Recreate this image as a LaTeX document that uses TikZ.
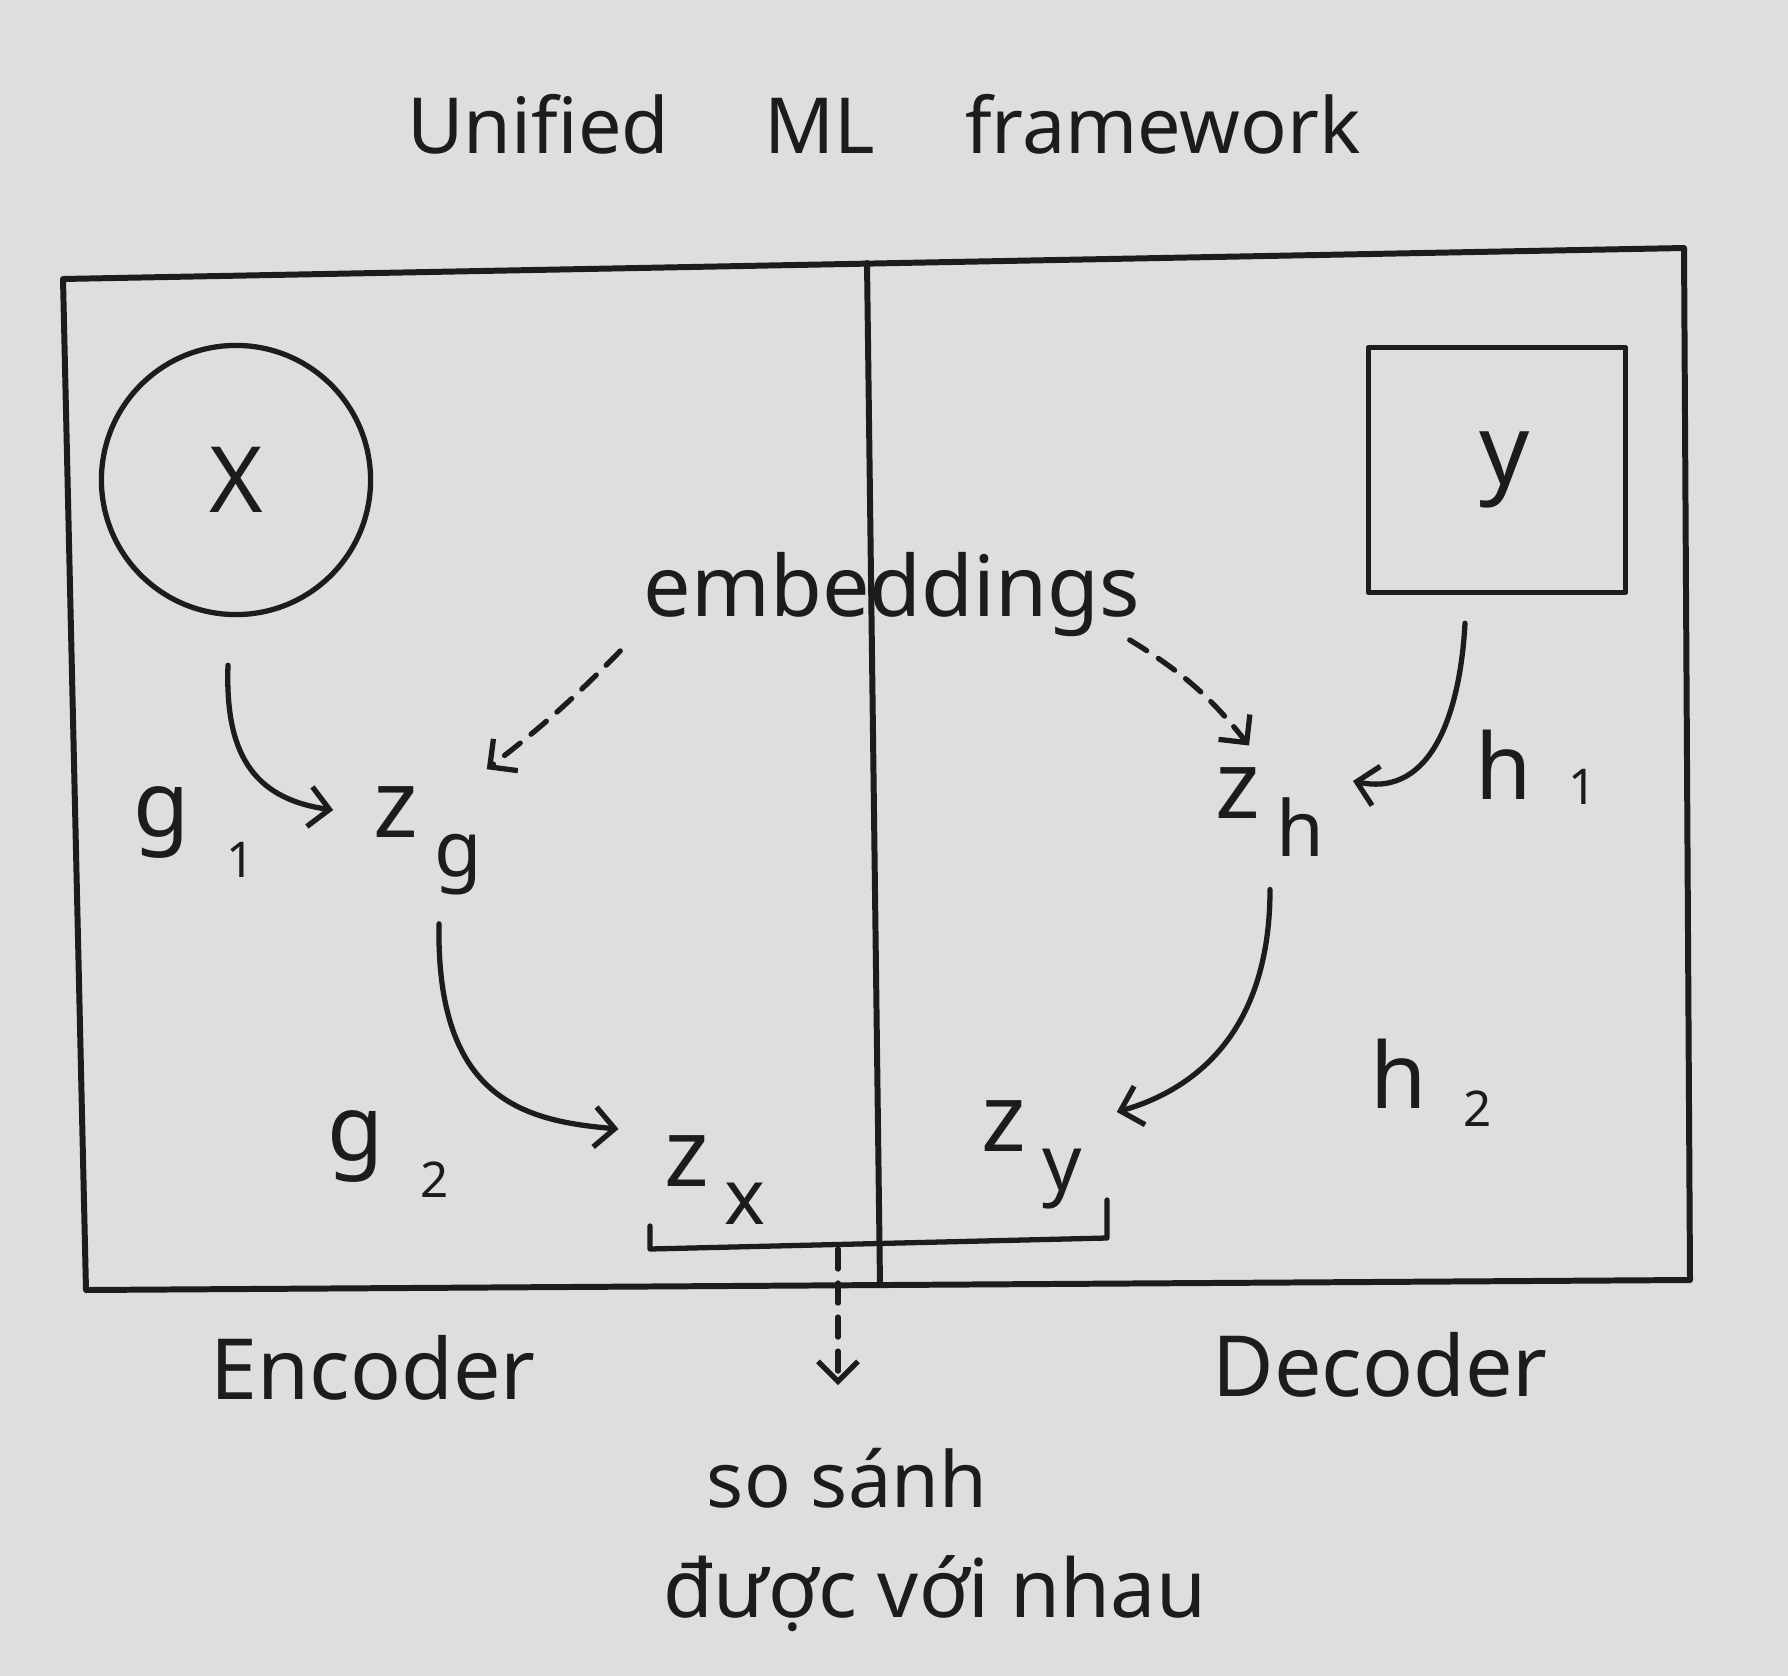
\documentclass[tikz,border=0pt]{standalone}
\usepackage{fontspec}
\setmainfont{Noto Sans}
\usetikzlibrary{arrows.meta,calc}
\definecolor{inkc}{RGB}{28,28,28}
\definecolor{paper}{RGB}{222,222,220}
\newcommand\zsub[1]{{\fontsize{27}{32}\selectfont\bfseries z}\kern0.16cm\raisebox{-11pt}{\fontsize{22}{26}\selectfont #1}}
\newcommand\gsub[3]{{\fontsize{26}{30}\selectfont #1\kern0.4em\raisebox{-#3}{\fontsize{14}{16}\selectfont #2}}}
\begin{document}
\begin{tikzpicture}[x=0.01cm,y=-0.01cm,
  ink/.style={draw=inkc,line width=1.5pt,line cap=round,line join=round},
  arr/.style={ink,-{Straight Barb[length=0.2cm,width=0.4cm,line width=1.5pt]}},
  darr/.style={arr,dash pattern=on 0.2cm off 0.14cm},
  every node/.style={text=inkc},
  lbl/.style={font=\fontsize{24}{28}\selectfont}]
\fill[paper] (0,0) rectangle (1788,1676);
\useasboundingbox (0,0) rectangle (1788,1676);

% title
\node[anchor=base,font=\fontsize{22}{26}\selectfont] (title) at (884,154) {Unified\hspace{0.95cm}ML\hspace{0.9cm}framework};

% frame
\coordinate (fTL) at (63,279);
\coordinate (fTR) at (1684,248);
\coordinate (fBR) at (1690,1280);
\coordinate (fBL) at (86,1290);
\draw[ink,line width=1.7pt] (fTL) -- (fTR) -- (fBR) -- (fBL) -- cycle;
\coordinate (dT) at (867,263);
\coordinate (dB) at (880,1285);
\draw[ink,line width=1.7pt] (dT) -- (dB);

% inputs
\node[circle,ink,minimum size=2.69cm,inner sep=0,font=\fontsize{26}{30}\selectfont] (X) at (236,480) {X};
\node[ink,minimum width=2.57cm,minimum height=2.45cm,inner sep=0,font=\fontsize{28}{30}\selectfont] (Y) at (1497,470) {\hspace{0.15cm}y};

% embeddings
\node[lbl,anchor=base,inner sep=0] (emb) at (892,616) {embeddings};

% latent nodes
\node[inner sep=0] (zg) at (428,841) {\zsub{g}};
\node[inner sep=0] (zh) at (1270,812) {\zsub{h}};
\node[inner sep=0] (zx) at (715,1180) {\zsub{x}};
\node[inner sep=0] (zy) at (1032,1155) {\zsub{y}};

% function labels
\node (g1) at (194,832) {\gsub{g}{1}{0.45em}};
\node (g2) at (388,1154) {\gsub{g}{2}{0.4em}};
\node (h1) at (1536,767) {\gsub{h}{1}{0.05em}};
\node (h2) at (1431,1083) {\gsub{h}{2}{0.2em}};

% arrows
\draw[arr] ([xshift=-0.08cm,yshift=-0.48cm]X.south) to[out=-92,in=172,looseness=1.2] ([xshift=-0.4cm,yshift=0.31cm]zg.west);
\draw[arr] ([xshift=0.11cm,yshift=-0.28cm]zg.south) .. controls +(-3,175) and +(-95,-8) .. ([xshift=-0.45cm,yshift=0.51cm]zx.west);
\draw[arr] ([xshift=-0.32cm,yshift=-0.28cm]Y.south) to[out=-93,in=-12,looseness=1.1] ([xshift=0.28cm,yshift=0.31cm]zh.east);
\draw[arr] ([yshift=-0.32cm]zh.south) .. controls +(0,150) and +(70,-20) .. ([xshift=0.34cm,yshift=0.43cm]zy.east);

% dashed embedding arrows
\draw[darr] ([xshift=-0.23cm,yshift=-0.14cm]emb.south west) to[bend left=4] ([xshift=0.04cm,yshift=0.17cm]zg.north east);
\draw[darr] ([xshift=-0.11cm,yshift=-0.03cm]emb.south east) to[bend left=10] ([xshift=-0.21cm,yshift=0.21cm]zh.north);

% bracket
\coordinate (bA) at (650,1226);
\coordinate (bB) at (650,1249);
\coordinate (bC) at (1107,1238);
\coordinate (bD) at (1107,1200);
\draw[ink] (bA) -- (bB) -- (bC) -- (bD);
\coordinate (bM) at (838,1249);
\coordinate (bE) at (838,1385);
\draw[darr] (bM) -- (bE);

% bottom labels
\node[lbl] (enc) at (373,1368) {Encoder};
\node[lbl] (dec) at (1380,1365) {Decoder};
\node[anchor=base,font=\fontsize{22}{26}\selectfont] (cmp1) at (847,1507) {so sánh};
\node[anchor=base,font=\fontsize{23}{26}\selectfont] (cmp2) at (935,1617) {được với nhau};
\end{tikzpicture}
\end{document}
